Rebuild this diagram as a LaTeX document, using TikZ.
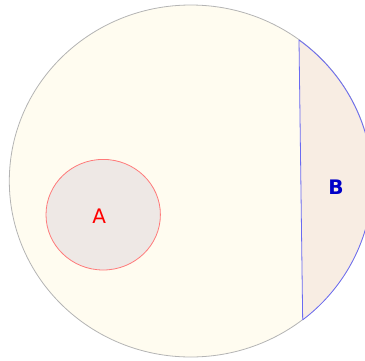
\documentclass[tikz,border=0pt]{standalone}
\usepackage{fontspec}
\setmainfont{DejaVu Sans}
\usepackage{xcolor}
\definecolor{outerfill}{HTML}{FFFCF0}
\definecolor{outerline}{HTML}{B4B4B4}
\definecolor{afill}{HTML}{EEE8E5}
\definecolor{aline}{HTML}{FF7A7A}
\definecolor{bfill}{HTML}{F8EDE3}
\definecolor{bline}{HTML}{6A6AF2}
\definecolor{btext}{HTML}{0000C8}

\begin{document}
\begin{tikzpicture}[x=1pt,y=1pt,
    outer/.style={draw=outerline,fill=outerfill,line width=0.8pt},
    seta/.style={draw=aline,fill=afill,line width=0.8pt},
    setb/.style={draw=bline,fill=bfill,line width=0.8pt,line join=round},
    lbl/.style={font=\fontsize{20}{24}\selectfont}]
    \useasboundingbox (0,0) rectangle (365,-360);
    \clip (0,0) rectangle (365,-360);

    \coordinate (ctr) at (190.8,-181);
    \coordinate (top) at (299,-40);
    \coordinate (bot) at (302.7,-320);

    \draw[outer] (ctr) ellipse [x radius=181.5pt, y radius=176pt];
    \draw[setb] (top) arc[start angle=53.4, end angle=-51.94, x radius=181.5pt, y radius=176pt] -- cycle;
    \draw[seta] (103.2,-214.7) ellipse [x radius=57.2pt, y radius=55.3pt];

    \node[lbl,text=red] (a) at (99.3,-216.5) {A};
    \node[lbl,text=btext,font=\fontsize{20}{24}\selectfont\bfseries] (b) at (336,-187) {B};
\end{tikzpicture}
\end{document}
